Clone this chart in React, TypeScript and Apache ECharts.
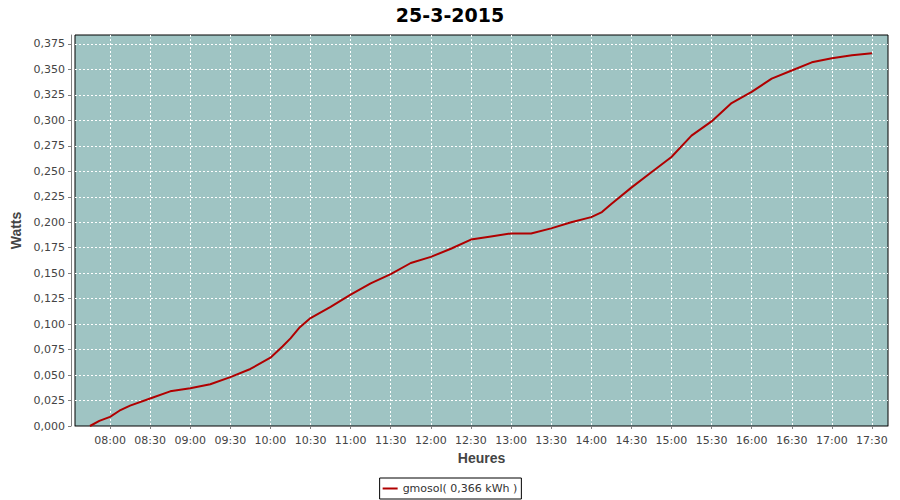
import React, { useEffect, useRef } from 'react';
import * as echarts from 'echarts';

const TITLE = '25-3-2015';
const SERIES_NAME = 'gmosol( 0,366 kWh )';
const X_NAME = 'Heures';
const Y_NAME = 'Watts';

const times = [
  '07:45', '07:52', '08:00', '08:07', '08:15', '08:30', '08:45', '09:00', '09:15', '09:30',
  '09:45', '10:00', '10:09', '10:15', '10:22', '10:30', '10:45', '11:00', '11:15', '11:30',
  '11:45', '12:00', '12:15', '12:30', '12:45', '13:00', '13:15', '13:30', '13:45', '14:00',
  '14:08', '14:15', '14:30', '14:45', '15:00', '15:15', '15:30', '15:45', '16:00', '16:15',
  '16:30', '16:45', '17:00', '17:15', '17:30',
];
const watts = [
  0.000, 0.005, 0.009, 0.015, 0.020, 0.027, 0.034, 0.037, 0.041, 0.048,
  0.056, 0.067, 0.078, 0.086, 0.097, 0.106, 0.117, 0.129, 0.140, 0.149,
  0.160, 0.166, 0.174, 0.183, 0.186, 0.189, 0.189, 0.194, 0.200, 0.205,
  0.210, 0.218, 0.234, 0.249, 0.264, 0.285, 0.299, 0.317, 0.328, 0.341,
  0.349, 0.357, 0.361, 0.364, 0.366,
];

const xTickLabels = [
  '08:00', '08:30', '09:00', '09:30', '10:00', '10:30', '11:00', '11:30', '12:00', '12:30',
  '13:00', '13:30', '14:00', '14:30', '15:00', '15:30', '16:00', '16:30', '17:00', '17:30',
];
const yTickValues = [
  0, 0.025, 0.05, 0.075, 0.1, 0.125, 0.15, 0.175, 0.2, 0.225, 0.25, 0.275, 0.3, 0.325, 0.35, 0.375,
];

const X_MIN = 453.8; // minutes since midnight (07:33.8)
const X_MAX = 1062; // 17:42
const Y_MIN = 0;
const Y_MAX = 0.3838;

const FONT = 'DejaVu Sans';
const NAME_FONT = 'Liberation Sans';

const toMin = (s: string) => {
  const [h, m] = s.split(':').map(Number);
  return h * 60 + m;
};
const fmtTime = (v: number) => {
  const h = Math.floor(v / 60);
  const m = Math.round(v - h * 60);
  return String(h).padStart(2, '0') + ':' + String(m).padStart(2, '0');
};

export default function App() {
  const ref = useRef<HTMLDivElement>(null);
  useEffect(() => {
    if (!ref.current) return;
    const chart = echarts.init(ref.current, undefined, { renderer: 'svg' });
    const xTickVals = xTickLabels.map(toMin);
    const data = times.map((t, i) => [toMin(t), watts[i]]);
    const axisGrey = '#808080';
    chart.setOption({
      animation: false,
      backgroundColor: '#ffffff',
      title: {
        text: TITLE,
        left: 'center',
        top: 0,
        textStyle: { fontFamily: FONT, fontWeight: 'bold', fontSize: 19, color: '#000' },
      },
      grid: {
        left: 75,
        right: 12,
        top: 35,
        bottom: 74,
        show: true,
        backgroundColor: '#9FC4C3',
        borderColor: '#000',
        borderWidth: 1,
      },
      legend: {
        bottom: 1,
        left: 'center',
        data: [SERIES_NAME],
        borderColor: '#000',
        borderWidth: 1,
        borderRadius: 0,
        backgroundColor: '#fff',
        padding: [5, 4, 5, 3],
        itemWidth: 15,
        itemHeight: 2,
        icon: 'rect',
        textStyle: { fontFamily: FONT, fontSize: 11, color: '#333' },
      },
      xAxis: {
        type: 'value',
        min: X_MIN,
        max: X_MAX,
        offset: 4,
        name: X_NAME,
        nameLocation: 'middle',
        nameGap: 21,
        nameTextStyle: { fontFamily: NAME_FONT, fontWeight: 'bold', fontSize: 14, color: '#444' },
        axisLine: { show: true, lineStyle: { color: axisGrey, width: 1 } },
        axisTick: { show: true, length: 3, customValues: xTickVals, lineStyle: { color: axisGrey } },
        axisLabel: {
          customValues: xTickVals,
          formatter: (v: number) => fmtTime(v),
          fontFamily: FONT,
          fontSize: 11,
          color: '#444',
          margin: 5,
        },
        splitLine: { show: true, lineStyle: { color: '#fff', type: [2, 2], width: 1 } },
      },
      yAxis: {
        type: 'value',
        min: Y_MIN,
        max: Y_MAX,
        offset: 4,
        name: Y_NAME,
        nameLocation: 'middle',
        nameGap: 44,
        nameRotate: 90,
        nameTextStyle: { fontFamily: NAME_FONT, fontWeight: 'bold', fontSize: 14, color: '#444' },
        axisLine: { show: true, lineStyle: { color: axisGrey, width: 1 } },
        axisTick: { show: true, length: 3, customValues: yTickValues, lineStyle: { color: axisGrey } },
        axisLabel: {
          customValues: yTickValues,
          formatter: (v: number) => v.toFixed(3).replace('.', ','),
          fontFamily: FONT,
          fontSize: 11,
          color: '#444',
          margin: 6,
        },
        splitLine: { show: true, lineStyle: { color: '#fff', type: [2, 2], width: 1 } },
      },
      series: [
        {
          name: SERIES_NAME,
          type: 'line',
          data,
          showSymbol: false,
          symbol: 'none',
          lineStyle: { color: '#B00000', width: 2 },
          itemStyle: { color: '#B00000' },
        },
      ],
    });
    return () => chart.dispose();
  }, []);
  return <div ref={ref} style={{ width: 900, height: 500, position: 'absolute', left: 0, top: 0 }} />;
}
